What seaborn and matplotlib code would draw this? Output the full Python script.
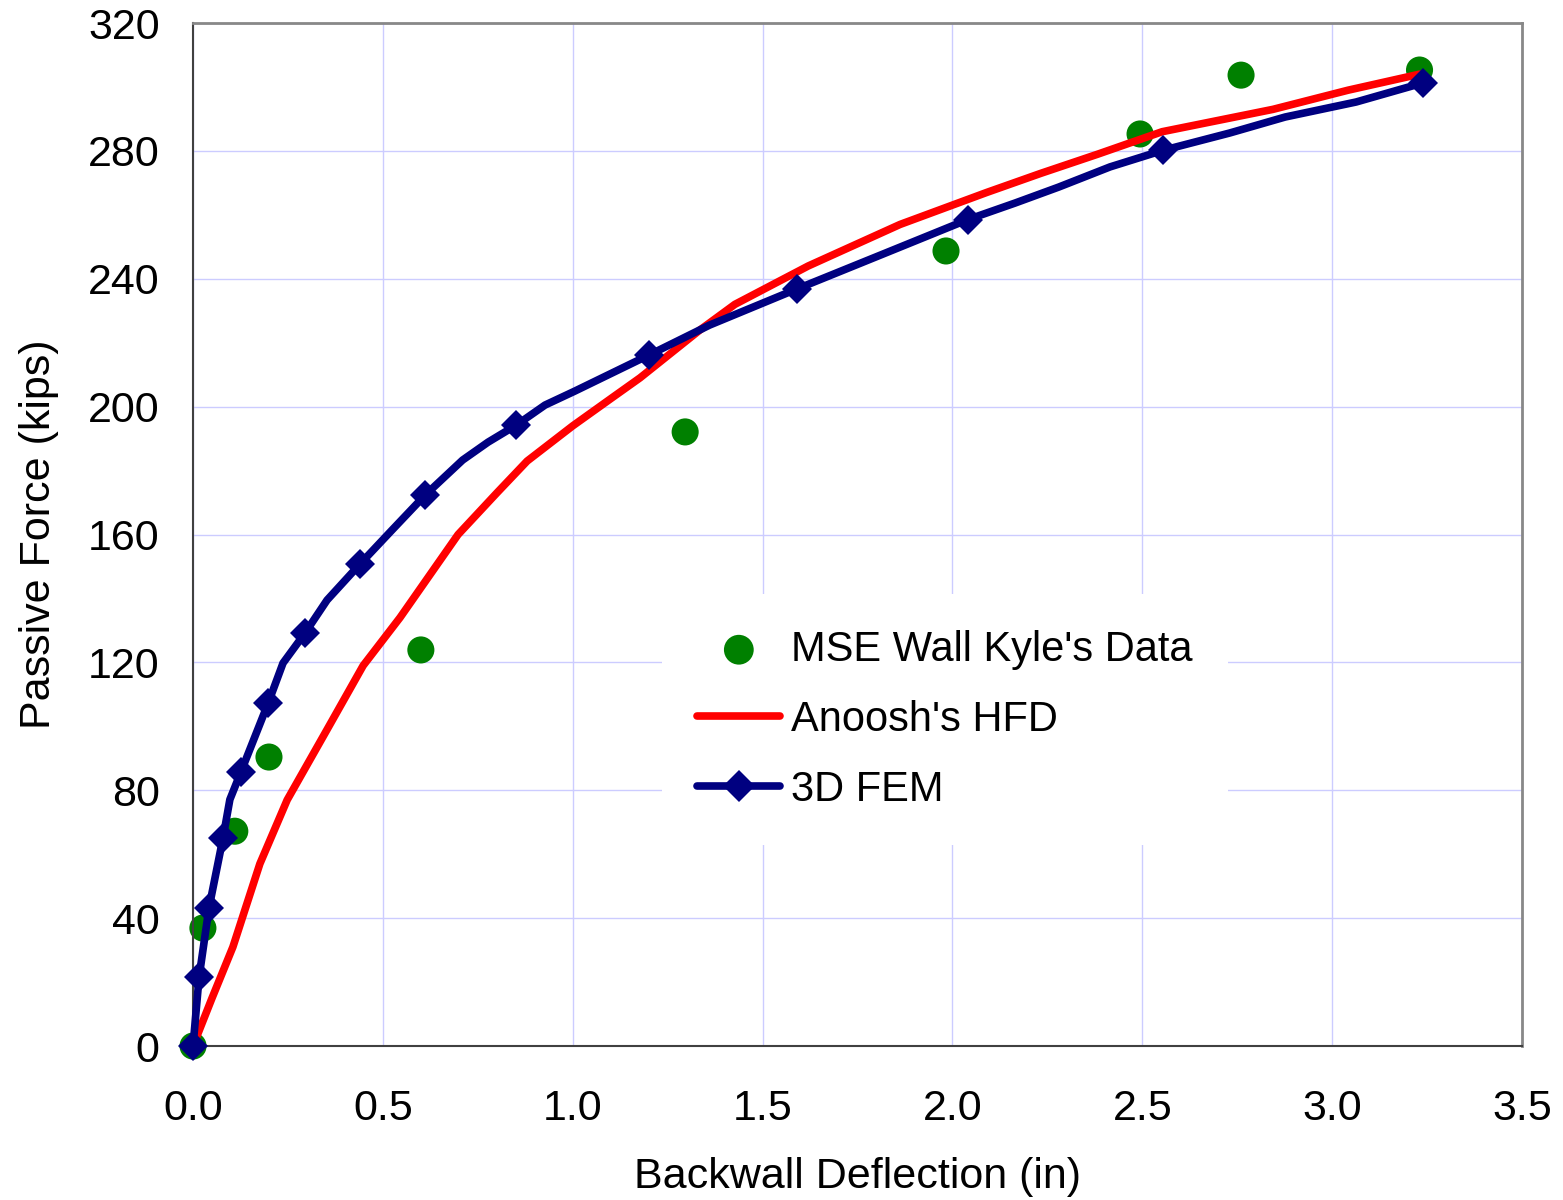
import numpy as np
import pandas as pd
import matplotlib
matplotlib.use('Agg')
import matplotlib.pyplot as plt
import seaborn as sns

# --- datos ---
kyle_x = [0.0, 0.026, 0.11, 0.20, 0.60, 1.296, 1.983, 2.494, 2.76, 3.23]
kyle_y = [0.0, 36.9, 67.2, 90.4, 123.9, 192.1, 248.7, 285.3, 303.7, 305.3]

hfd_x = [0.0, 0.05, 0.105, 0.176, 0.248, 0.353, 0.448, 0.545, 0.698, 0.80, 0.88,
         1.0, 1.106, 1.177, 1.335, 1.427, 1.62, 1.862, 2.09, 2.233, 2.383,
         2.552, 2.844, 3.042, 3.23]
hfd_y = [0.0, 15, 31, 57, 77, 99, 119, 134, 160, 173, 183,
         194, 203, 209, 224, 232, 244, 257, 267, 273, 279,
         286, 293, 299, 304]

fem_x = [0.0, 0.016, 0.042, 0.079, 0.097, 0.126, 0.198, 0.237, 0.295, 0.353,
         0.44, 0.524, 0.611, 0.71, 0.777, 0.851, 0.927, 1.006, 1.20, 1.36,
         1.59, 1.81, 2.04, 2.165, 2.28, 2.415, 2.555, 2.73, 2.876, 3.063, 3.24]
fem_y = [0.0, 21.6, 43.2, 65.1, 77.1, 85.7, 107.3, 119.8, 129.2, 139.5,
         150.8, 161.4, 172.3, 183.3, 188.9, 194.2, 200.5, 204.9, 216.1, 225.5,
         236.8, 247.4, 258.5, 263.7, 268.7, 275.0, 280.2, 285.6, 290.6, 295.3, 301.3]
fem_marks = [0, 1, 2, 3, 5, 6, 8, 10, 12, 15, 18, 20, 22, 26, 30]

df_kyle = pd.DataFrame({'x': kyle_x, 'y': kyle_y})
df_hfd = pd.DataFrame({'x': hfd_x, 'y': hfd_y})
df_fem = pd.DataFrame({'x': fem_x, 'y': fem_y})

sns.set_style('white')
plt.rcParams['font.family'] = ['Liberation Sans', 'DejaVu Sans']
plt.rcParams['text.color'] = 'black'
plt.rcParams['axes.labelcolor'] = 'black'

fs = 31

fig = plt.figure(figsize=(15.63, 12), dpi=100)
ax = fig.add_axes([0.1235, 0.1283, 0.8503, 0.8525])

sns.lineplot(data=df_hfd, x='x', y='y', ax=ax, color='#ff0000', lw=5.5,
             label="Anoosh's HFD", sort=False, zorder=3, clip_on=False)
sns.lineplot(data=df_fem, x='x', y='y', ax=ax, color='#000080', lw=5.5,
             marker='D', markersize=15, markevery=fem_marks, markeredgewidth=0,
             label='3D FEM', sort=False, zorder=4, clip_on=False)
sns.scatterplot(data=df_kyle, x='x', y='y', ax=ax, color='#008000', s=380,
                edgecolor='none', label="MSE Wall Kyle's Data", zorder=2,
                clip_on=False)

ax.set_xlim(0, 3.5)
ax.set_ylim(0, 320)
ax.set_xticks(np.arange(0, 3.51, 0.5))
ax.set_yticks(np.arange(0, 321, 40))
ax.set_xticklabels([f'{v:.1f}' for v in np.arange(0, 3.51, 0.5)])
ax.grid(True, color='#ccccff', lw=1)
ax.set_axisbelow(True)

ax.tick_params(axis='both', direction='in', length=6, width=1.5, labelsize=fs,
               colors='#404040', labelcolor='black')
ax.tick_params(axis='x', pad=31)
ax.tick_params(axis='y', pad=24)

for s in ['left', 'bottom']:
    ax.spines[s].set_color('#404040')
    ax.spines[s].set_linewidth(1.5)
for s in ['top', 'right']:
    ax.spines[s].set_color('#888888')
    ax.spines[s].set_linewidth(2)

ax.set_xlabel('Backwall Deflection (in)', fontsize=fs, labelpad=20)
ax.set_ylabel('Passive Force (kips)', fontsize=fs, labelpad=21)

h, l = ax.get_legend_handles_labels()
order = [l.index("MSE Wall Kyle's Data"), l.index("Anoosh's HFD"), l.index('3D FEM')]
leg = ax.legend([h[i] for i in order], [l[i] for i in order],
                loc='upper left', bbox_to_anchor=(0.337, 0.462),
                fontsize=30, frameon=True, framealpha=1, edgecolor='white',
                fancybox=False, handlelength=2.0, handletextpad=0.25,
                labelspacing=0.72, borderpad=0.85, markerscale=1.1)
leg.get_frame().set_linewidth(0)

fig.savefig('out.png', dpi=100, facecolor='white')
